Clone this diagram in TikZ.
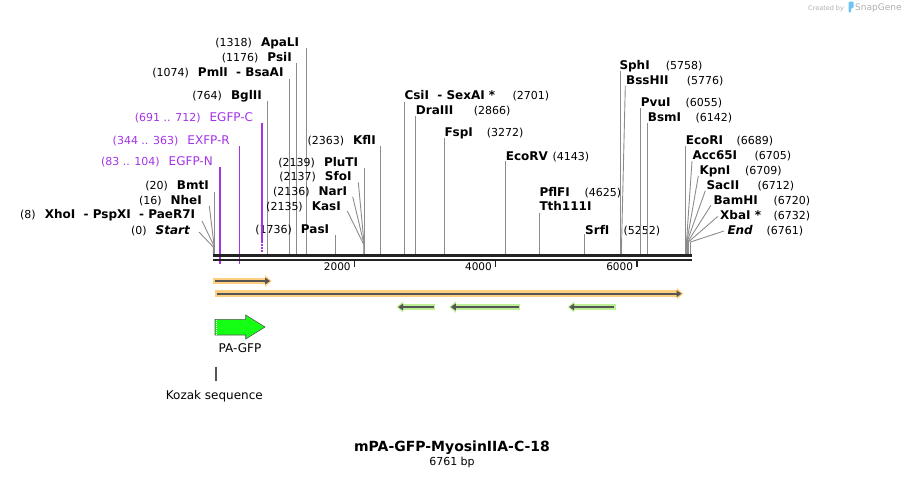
\documentclass[tikz,border=0pt]{standalone}
\usepackage{fontspec}
\setmainfont{DejaVu Sans}
\usetikzlibrary{arrows.meta,positioning}

\definecolor{cutgray}{RGB}{140,140,140}
\definecolor{rulerblack}{RGB}{35,35,35}
\definecolor{primerpurple}{RGB}{163,51,232}
\definecolor{haloorange}{RGB}{255,207,128}
\definecolor{halogreen}{RGB}{188,240,150}
\definecolor{featgray}{RGB}{85,85,85}
\definecolor{gfpgreen}{RGB}{20,255,20}
\definecolor{creditgray}{RGB}{175,175,175}
\definecolor{snapblue}{RGB}{110,195,240}

\newcommand{\sitefont}{\fontsize{12}{14}\selectfont\bfseries}
\newcommand{\numfont}{\fontsize{11}{13}\selectfont}

\tikzset{
  cutline/.style={cutgray, line width=0.9pt},
  primerline/.style={primerpurple, line width=1.2pt},
  leftsite/.style={anchor=base east, inner sep=0pt, font=\numfont},
  rightsite/.style={anchor=base west, inner sep=0pt, font=\sitefont},
  sitenum/.style={anchor=base west, inner sep=0pt, font=\numfont},
  primerlabel/.style={anchor=base east, inner sep=0pt, text=primerpurple, font=\numfont},
  ruler/.style={rulerblack, line width=2.3pt},
  rulertick/.style={rulerblack, line width=1.6pt},
  halo/.style={line width=6.5pt, -{Triangle[length=6.5pt,width=11.5pt,line width=0pt]}},
  featarrow/.style={featgray, line width=2pt, -{Triangle[length=5pt,width=7pt,line width=0pt]}},
  caption/.style={inner sep=0pt, font=\fontsize{12}{14}\selectfont},
}

\begin{document}
\begin{tikzpicture}[x=1pt, y=-1pt]
  \useasboundingbox (0,0) rectangle (905,477);

  % Sites labelled on the left
  \foreach \nm/\num/\lx/\ly/\tx/\ty/\bx/\by [count=\i] in {
      ApaLI/1318/299.3/46.1/306.3/48.3/306.3/255,
      PsiI/1176/292/61.1/296.3/63.3/296.3/255,
      PmlI\ \ - BsaAI/1074/283.7/76.4/289.3/79.3/289.3/255,
      BglII/764/262/99.1/267.3/100.7/267.3/255,
      KflI/2363/376/144.4/380/146/380/255,
      PluTI/2139/358.3/166.6/364/168.3/364/255,
      SfoI/2137/351.7/180.9/358.3/182.3/364/243,
      NarI/2136/347.3/195.7/352.7/196.7/364/244,
      KasI/2135/341/210.4/347.3/211/364/245,
      PasI/1736/329.3/233.9/335/235.3/335/255,
      BmtI/20/209/189.4/214.5/191.7/214.5/255,
      NheI/16/202/204.4/209.3/206/213.8/243,
      XhoI\ \ - PspXI\ \ - PaeR7I/8/195.3/218.7/202/221/213.6/245,
      {\itshape Start}/0/190/234.1/199/232/213.3/247}{
    \node[leftsite] (L\i) at (\lx,\ly) {(\num)\hspace{9pt}{\sitefont\nm}};
    \coordinate (Lt\i) at (\tx,\ty);
    \coordinate (Lk\i) at (\bx,\by);
    \coordinate (Lc\i) at (\bx,255);
    \draw[cutline] (Lt\i) -- (Lk\i) -- (Lc\i);
  }

  % Sites labelled on the right
  \foreach \nm/\num/\lx/\ly/\nx/\tx/\ty/\bx/\by [count=\i] in {
      CsiI\ \ - SexAI */2701/404.3/99.4/512.3/404.3/102/404.3/255,
      DraIII/2866/415.7/114.4/473.7/415.7/116/415.7/255,
      FspI/3272/444.3/136.7/486.7/444.7/138/444.7/255,
      EcoRV/4143/505.7/160.1/552.3/505.7/160.7/505.7/255,
      PflFI/4625/539.3/196.7/584.3/539.3/212.7/539.3/255,
      SrfI/5252/585/234.4/623.3/584.5/234.3/584.5/255,
      SphI/5758/619.3/69.4/665.7/620/70.7/620/255,
      BssHII/5776/626/84.7/686.7/625.3/86/621.3/255,
      PvuI/6055/640.7/106.4/685.3/640.7/108.3/640.7/255,
      BsmI/6142/647.7/121.4/695.3/647/122.7/647/255,
      EcoRI/6689/685.7/144.4/736.3/685.3/146.3/685.3/255,
      Acc65I/6705/692.3/159.7/754.3/692/161/686.5/242,
      KpnI/6709/699.3/174.1/745/698.3/176/686.8/242,
      SacII/6712/706.3/189.1/757.3/705.3/190.7/687/242,
      BamHI/6720/713.3/204.4/773.3/711/205.3/687.6/242,
      XbaI */6732/720/219.4/773.3/717.7/216.5/688.4/242,
      {\itshape End}/6761/727.3/234.4/766.3/724/231/690.5/242}{
    \node[rightsite] (R\i) at (\lx,\ly) {\nm};
    \node[sitenum] (Rn\i) at (\nx,\ly) {(\num)};
    \coordinate (Rt\i) at (\tx,\ty);
    \coordinate (Rk\i) at (\bx,\by);
    \coordinate (Rc\i) at (\bx,255);
    \draw[cutline] (Rt\i) -- (Rk\i) -- (Rc\i);
  }
  \node[rightsite] (tth) at (539.3,210.4) {Tth111I};

  % Primers
  \foreach \nm/\rng/\lx/\ly/\px/\ty/\by [count=\i] in {
      EGFP-C/691 .. 712/253.3/121.4/262/122.7/241,
      EXFP-R/344 .. 363/230/144.1/239.3/146/264,
      EGFP-N/83 .. 104/213/165.4/220/167/264}{
    \node[primerlabel] (P\i) at (\lx,\ly) {(\rng)\hspace{9pt}{\fontsize{12}{14}\selectfont\nm}};
    \coordinate (Pt\i) at (\px,\ty);
    \coordinate (Pb\i) at (\px,\by);
    \draw[primerline] (Pt\i) -- (Pb\i);
  }
  \draw[primerline, dash pattern=on 1.5pt off 1.5pt] (Pb1) -- ++(0,11);

  % Sequence ruler
  \draw[ruler] (213,255.5) -- (691.7,255.5);
  \draw[ruler] (213,259.8) -- (691.7,259.8);
  \foreach \p in {2000,4000,6000}{
    \coordinate (tk\p) at ({213.3+\p*0.07058},259.8);
    \draw[rulertick] (tk\p) -- ++(0,7.5);
    \node[anchor=base east, inner sep=0pt, font=\fontsize{10.5}{12}\selectfont] (tl\p)
      at ({209.7+\p*0.07058},270.7) {\p};
  }

  % Features
  \draw[halo, haloorange] (213.3,281) -- (271.7,281);
  \draw[featarrow] (215,281) -- (270,281);
  \draw[halo, haloorange] (215,293.7) -- (683.3,293.7);
  \draw[featarrow] (217,293.7) -- (681.5,293.7);
  \foreach \xa/\xb in {396.7/435.3, 449.3/520, 567.7/615.7}{
    \draw[halo, halogreen] (\xb,307) -- (\xa,307);
    \draw[featarrow] ({\xb-1.5},307) -- ({\xa+1.5},307);
  }

  % PA-GFP
  \draw[fill=gfpgreen, draw=featgray, line width=0.6pt]
    (215,319.3) -- (245.7,319.3) -- (245.7,315) -- (265,327)
    -- (245.7,339) -- (245.7,335) -- (215,335) -- cycle;
  \draw[white, line width=0.6pt, dash pattern=on 1pt off 1pt] (216.6,320) -- (216.6,334.5);
  \node[caption] (pagfp) at (240,348.3) {PA-GFP};

  % Kozak sequence
  \coordinate (kozaktop) at (216,366.7);
  \coordinate (kozakbot) at (216,381);
  \draw[featgray, line width=1.8pt] (kozaktop) -- (kozakbot);
  \node[caption] (kozak) at (214.3,395.7) {Kozak sequence};

  % Title
  \node[anchor=base, inner sep=0pt, font=\fontsize{14}{16}\selectfont\bfseries] (title)
    at (452,451) {mPA-GFP-MyosinIIA-C-18};
  \node[anchor=base, inner sep=0pt, font=\fontsize{11}{13}\selectfont] (length)
    at (452,465) {6761 bp};

  % Credit
  \node[anchor=base west, inner sep=0pt, text=creditgray, font=\fontsize{6.5}{8}\selectfont]
    (credit) at (808,10) {Created by};
  \fill[snapblue, rounded corners=1pt] (848.5,1.5) -- (853.5,1.5) -- (853.5,8)
    -- (851,8) -- (851,12.5) -- (848.5,12.5) -- cycle;
  \node[anchor=base west, inner sep=0pt, text=creditgray, font=\fontsize{9}{10}\selectfont]
    (snapgene) at (855,10.5) {SnapGene};
\end{tikzpicture}
\end{document}
